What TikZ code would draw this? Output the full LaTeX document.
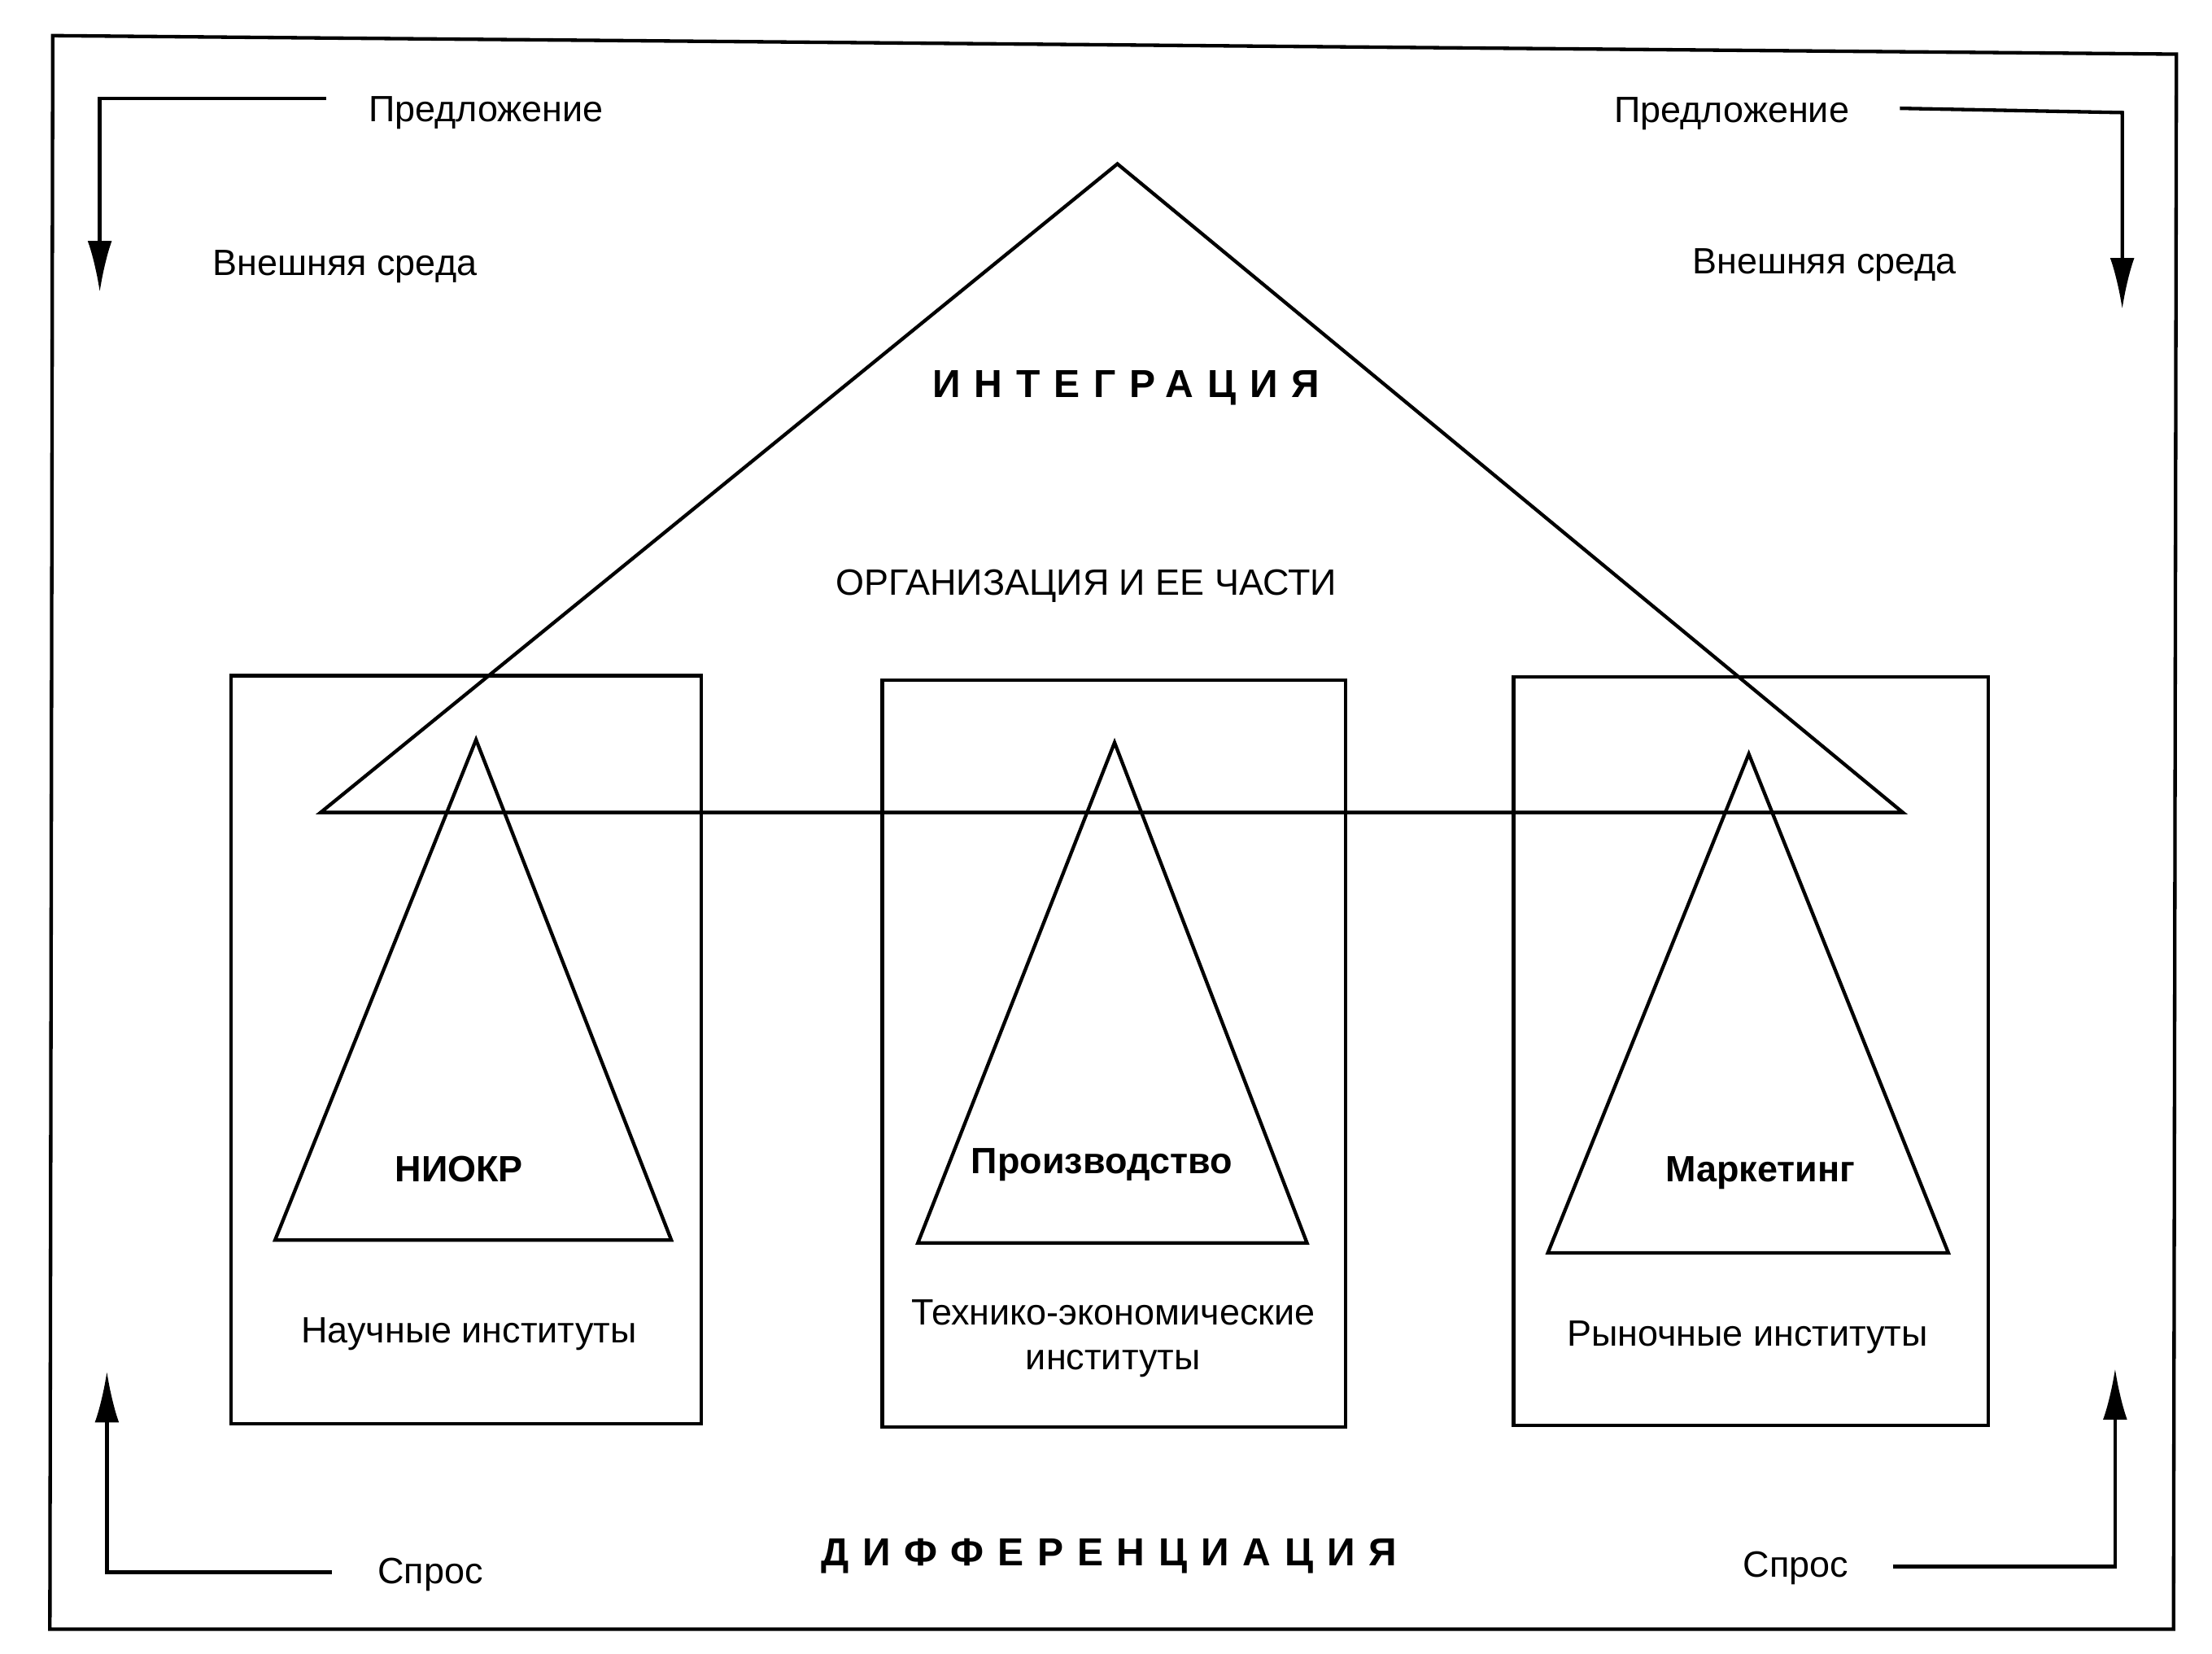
\documentclass[tikz,border=0pt]{standalone}
\usepackage{fontspec}
\setmainfont{Liberation Sans}
\usetikzlibrary{arrows.meta}
\begin{document}
\begin{tikzpicture}[x=0.1mm,y=-0.1mm,line width=0.7pt,
  txt/.style={font=\fontsize{7.3}{9}\selectfont,inner sep=0pt,align=center},
  bold/.style={font=\fontsize{7.3}{9}\selectfont\bfseries,inner sep=0pt},
  spaced/.style={font=\fontsize{7.8}{9}\selectfont\bfseries\addfontfeature{LetterSpace=35},inner sep=0pt},
  arr/.style={-{Latex[length=3.6mm,width=1.7mm]}}]
\useasboundingbox (0,0) rectangle (1552,1160);
\draw (37,25) -- (1527,38) -- (1525,1143) -- (35,1143) -- cycle;
% big triangle
\coordinate (A) at (784,115); \coordinate (B) at (225,570); \coordinate (C) at (1335,570);
\draw (A) -- (B) -- (C) -- cycle;
% boxes
\draw (162,474) rectangle (492,999);
\draw (619,477) rectangle (944,1001);
\draw (1062,475) rectangle (1395,1000);
% small triangles
\draw (334,519) -- (193,870) -- (471,870) -- cycle;
\draw (782,521) -- (644,872) -- (917,872) -- cycle;
\draw (1227,529) -- (1086,879) -- (1367,879) -- cycle;
% labels
\node[bold] (n1) at (322,820) {НИОКР};
\node[bold] (n2) at (773,817) {Производство};
\node[bold] (n3) at (1235,823) {Маркетинг};
\node[txt] (i1) at (329,936) {Научные институты};
\node[txt] (i2) at (781,939) {Технико-экономические\\институты};
\node[txt] (i3) at (1226,938) {Рыночные институты};
\node[spaced] (int) at (790,272) {ИНТЕГРАЦИЯ};
\node[txt] (org) at (762,411) {ОРГАНИЗАЦИЯ И ЕЕ ЧАСТИ};
\node[spaced] (dif) at (778,1092) {ДИФФЕРЕНЦИАЦИЯ};
\node[txt] (p1) at (341,79) {Предложение};
\node[txt] (v1) at (242,187) {Внешняя среда};
\node[txt] (p2) at (1215,80) {Предложение};
\node[txt] (v2) at (1280,186) {Внешняя среда};
\node[txt] (s1) at (302,1105) {Спрос};
\node[txt] (s2) at (1260,1100) {Спрос};
% arrows
\coordinate (a1) at (229,69); \coordinate (a1e) at (70,205);
\draw[arr] (a1) -- (70,69) -- (a1e);
\coordinate (a2) at (1333,76); \coordinate (a2e) at (1489,217);
\draw[arr] (a2) -- (1489,79) -- (a2e);
\coordinate (a3) at (233,1103); \coordinate (a3e) at (75,962);
\draw[arr] (a3) -- (75,1103) -- (a3e);
\coordinate (a4) at (1328,1099); \coordinate (a4e) at (1484,960);
\draw[arr] (a4) -- (1484,1099) -- (a4e);
\end{tikzpicture}
\end{document}
